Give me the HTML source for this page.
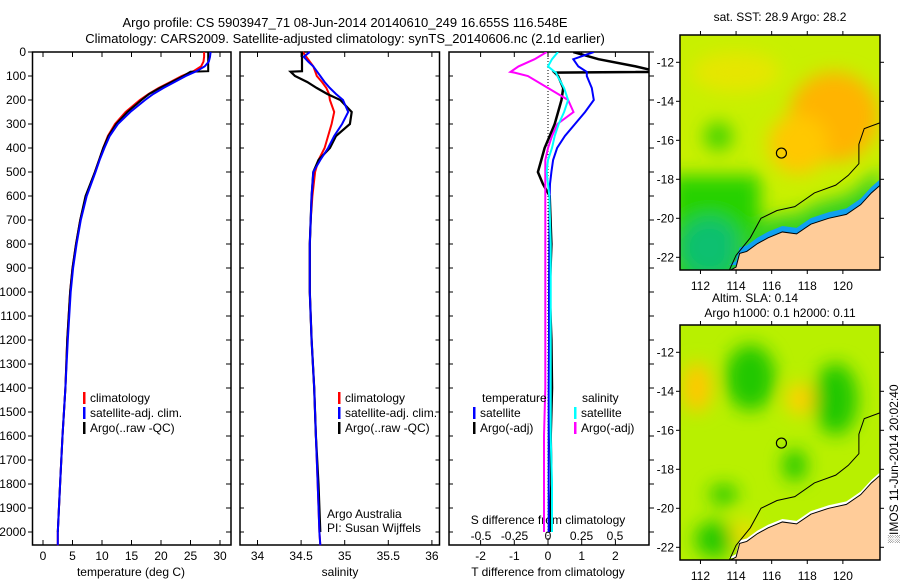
<!DOCTYPE html>
<html><head><meta charset="utf-8"><style>
body{margin:0;background:#fff;}
svg{display:block;font-family:"Liberation Sans",sans-serif;font-size:12px;}
</style></head><body>
<svg id="fig" width="900" height="580" viewBox="0 0 900 580">
<defs>
<filter id="blur" x="-20%" y="-20%" width="140%" height="140%"><feGaussianBlur stdDeviation="9"/></filter>
<clipPath id="clipA"><rect x="680" y="35" width="200" height="235"/></clipPath>
<clipPath id="clipB"><rect x="680" y="325" width="200" height="235"/></clipPath>
<clipPath id="clipP3"><rect x="449" y="52" width="200" height="493"/></clipPath>
</defs>
<text x="345" y="27" text-anchor="middle" font-size="13">Argo profile: CS 5903947_71 08-Jun-2014 20140610_249 16.655S 116.548E</text>
<text x="345" y="43" text-anchor="middle" font-size="13">Climatology: CARS2009. Satellite-adjusted climatology: synTS_20140606.nc (2.1d earlier)</text>
<g id="g"></g>
</svg>
<script>
// ---- data ----
const depths=[0,20,40,60,80,100,125,150,175,200,250,300,350,400,450,500,600,700,800,900,1000,1200,1400,1600,1800,2000,2055];
const tempClim=[27.3,27.3,27.2,26.8,25.5,23.5,21.6,19.6,17.9,16.4,14.0,12.2,11.0,10.2,9.5,8.8,7.3,6.3,5.6,5.0,4.6,4.1,3.8,3.3,2.9,2.5,2.5];
const tempSat=[28.4,28.3,28.1,27.4,26.0,24.2,22.3,20.4,18.7,17.3,14.8,12.7,11.3,10.4,9.6,8.9,7.4,6.4,5.7,5.1,4.7,4.2,3.8,3.3,2.9,2.5,2.5];
const argoDepths=[0,20,40,60,80,82,100,125,150,175,200,250,300,350,400,450,500,600,700,800,900,1000,1200,1400,1600,1800,2000];
const tempArgo=[28.0,28.0,28.0,28.0,28.0,25.0,23.8,21.8,19.8,18.0,16.7,14.3,12.4,11.1,10.2,9.5,8.8,7.2,6.3,5.6,5.0,4.6,4.1,3.8,3.3,2.9,2.5];
const salClim=[34.52,34.56,34.60,34.64,34.66,34.68,34.74,34.79,34.82,34.83,34.88,34.85,34.81,34.77,34.70,34.66,34.63,34.61,34.60,34.60,34.60,34.62,34.65,34.67,34.69,34.71,34.72];
const salSat=[34.60,34.53,34.58,34.64,34.68,34.72,34.77,34.83,34.90,34.98,35.04,34.97,34.88,34.81,34.72,34.64,34.62,34.61,34.60,34.60,34.60,34.62,34.65,34.67,34.69,34.71,34.72];
const salArgo=[34.51,34.51,34.51,34.51,34.51,34.38,34.43,34.57,34.68,34.80,34.95,35.08,35.06,34.90,34.83,34.70,34.64,34.62,34.61,34.60,34.60,34.60,34.62,34.65,34.67,34.70,34.72];
const dDepths=[0,30,60,83,86,100,150,200,250,300,350,400,450,500,550,600,800,1000,1200,1400,1600,1800,2000];
const tDiffSat=[1.36,0.75,0.9,1.15,1.15,1.15,1.3,1.36,1.1,0.8,0.5,0.27,0.15,0.1,0.06,0.05,0.04,0.03,0.03,0.02,0.02,0.02,0.02];
const tDiffArgo=[0.75,1.5,2.6,3.3,0.2,0.3,0.45,0.4,0.3,0.2,0.05,-0.1,-0.2,-0.3,-0.15,0.05,0.1,0.05,0.1,0.12,0.08,0.1,0.05];
const sDiffSat=[0.075,0.03,0.0,0.05,0.06,0.07,0.12,0.15,0.12,0.08,0.05,0.03,0.0,-0.01,0.0,0.01,0.02,0.02,0.02,0.02,0.02,0.03,0.03];
const sDiffArgo=[-0.01,-0.1,-0.22,-0.28,-0.25,-0.15,0.0,0.15,0.19,0.07,0.03,0.0,-0.02,-0.02,-0.02,-0.02,-0.02,-0.02,-0.02,-0.02,-0.03,-0.03,-0.03];
const depthTicks=[0,100,200,300,400,500,600,700,800,900,1000,1100,1200,1300,1400,1500,1600,1700,1800,1900,2000];
const tempTicks=[0,5,10,15,20,25,30];
const salTicks=[34,34.5,35,35.5,36];
const tdTicks=[-2,-1,0,1,2];
const sdTicks=[-0.5,-0.25,0,0.25,0.5];
const lonTicks=[112,114,116,118,120];
const latTicks=[-12,-14,-16,-18,-20,-22];
const argoLon=116.548, argoLat=-16.655;
const coast=[[113.6,-22.7],[114.0,-22.5],[114.2,-21.8],[114.6,-21.7],[115.2,-21.3],[115.8,-21.0],[116.6,-20.7],[117.4,-20.8],[118.2,-20.3],[119.2,-20.0],[120.2,-19.8],[121.0,-19.3],[121.6,-18.7],[122.1,-18.3],[122.1,-22.7]];
const isobath=[[113.6,-22.7],[114.0,-21.9],[114.8,-21.0],[115.4,-20.0],[116.3,-19.6],[117.3,-19.4],[118.4,-18.7],[119.6,-18.3],[120.3,-17.8],[120.9,-17.2],[120.9,-16.2],[121.2,-15.4],[122.1,-15.1]];

// ---- scales ----
const yD=d=>52+d*0.24;
const xT=t=>43+t*5.9;
const xS=s=>257.5+(s-34)*87.2;
const xTD=v=>548+v*33.7;
const xSD=v=>548+v*134;
const mx=l=>680+(l-110.85)*17.8;
const myA=l=>35+(-10.6-l)*19.5;
const myB=l=>325+(-10.6-l)*19.5;

const NS='http://www.w3.org/2000/svg';
const g=document.getElementById('g');
function el(tag,attrs,parent){const e=document.createElementNS(NS,tag);for(const k in attrs)e.setAttribute(k,attrs[k]);(parent||g).appendChild(e);return e;}
function txt(x,y,s,anchor,parent){const e=el('text',{x:x,y:y,'text-anchor':anchor||'start'},parent);e.textContent=s;return e;}
function profile(xs,ys,xf,color,w,name,clip){
  const pts=xs.map((v,i)=>xf(v).toFixed(1)+','+yD(ys[i]).toFixed(1)).join(' ');
  const p=el('polyline',{points:pts,fill:'none',stroke:color,'stroke-width':w});
  if(clip)p.setAttribute('clip-path','url(#clipP3)');
  
  
}
function panel(x0,x1,name){
  const r=el('rect',{x:x0,y:52,width:x1-x0,height:493,fill:'none',stroke:'#000','stroke-width':1.5});
  
  
}
panel(32.5,231,'temperature-panel');
panel(240,439.5,'salinity-panel');
panel(449,649,'difference-panel');
depthTicks.forEach(d=>{
  el('line',{x1:28,x2:32.5,y1:yD(d),y2:yD(d),stroke:'#000'});
  el('line',{x1:649,x2:654,y1:yD(d),y2:yD(d),stroke:'#000'});
  el('line',{x1:240,x2:244,y1:yD(d),y2:yD(d),stroke:'#000'});
  el('line',{x1:435.5,x2:439.5,y1:yD(d),y2:yD(d),stroke:'#000'});
  el('line',{x1:226,x2:231,y1:yD(d),y2:yD(d),stroke:'#000'});
  el('line',{x1:449,x2:453,y1:yD(d),y2:yD(d),stroke:'#000'});
  const t=txt(26,yD(d)+4,String(d),'end');
  
  
});
function xticks(ticks,f,labY){
  ticks.forEach(v=>{
    const x=f(v);
    el('line',{x1:x,x2:x,y1:52,y2:57,stroke:'#000'});
    el('line',{x1:x,x2:x,y1:540,y2:545,stroke:'#000'});
    const t=txt(x,labY,String(v),'middle');
    
    
  });
}
xticks(tempTicks,xT,560);
xticks(salTicks,xS,560);
xticks(tdTicks,xTD,560);
sdTicks.forEach(v=>{
  const t=txt(xSD(v),540,String(v),'middle');
  
  
});
[['temperature (deg C)',131],['salinity',340],['T difference from climatology',548]].forEach(a=>{
  const t=txt(a[1],576,a[0],'middle');
  
  
});
{const t=txt(548,524,'S difference from climatology','middle');

}
{const z=el('line',{x1:548,x2:548,y1:52,y2:545,stroke:'#000','stroke-dasharray':'1,2'});

}
profile(tempClim,depths,xT,'#f00',2,'temp-climatology-line');
profile(tempArgo,argoDepths,xT,'#000',2,'temp-argo-line');
profile(tempSat,depths,xT,'#00f',2,'temp-satellite-line');
profile(salClim,depths,xS,'#f00',2,'sal-climatology-line');
profile(salArgo,argoDepths,xS,'#000',2.2,'sal-argo-line');
profile(salSat,depths,xS,'#00f',2,'sal-satellite-line');
profile(tDiffArgo,dDepths,xTD,'#000',2.5,'tdiff-argo-line',true);
profile(tDiffSat,dDepths,xTD,'#00f',2,'tdiff-satellite-line',true);
profile(sDiffArgo,dDepths,xSD,'#f0f',2,'sdiff-argo-line',true);
profile(sDiffSat,dDepths,xSD,'#0ff',2,'sdiff-satellite-line',true);
function legend(x,y,items,name){
  items.forEach((it,i)=>{
    const yy=y+i*15;
    el('rect',{x:x,y:yy-10,width:2.5,height:12,fill:it[1]});
    const t=txt(x+7,yy,it[0]);
    
    
  });
}
const L1=[['climatology','#f00'],['satellite-adj. clim.','#00f'],['Argo(..raw -QC)','#000']];
legend(83,402,L1,'temp-legend');
legend(338,402,L1,'sal-legend');
txt(482,402,'temperature');
txt(582,402,'salinity');
legend(473,417,[['satellite','#00f'],['Argo(-adj)','#000']],'tdiff-legend');
legend(574,417,[['satellite','#0ff'],['Argo(-adj)','#f0f']],'sdiff-legend');
txt(327,518,'Argo Australia');
txt(327,532,'PI: Susan Wijffels');
function map(my,clip,top,kind){
  const mg=el('g',{'clip-path':'url(#'+clip+')'});
  
  
  el('rect',{x:680,y:top,width:200,height:235,fill:kind==='sst'?'#c8f000':'#b8f000'},mg);
  const bl=el('g',{filter:'url(#blur)'},mg);
  if(kind==='sst'){
    el('ellipse',{cx:mx(119.5),cy:my(-14.8),rx:45,ry:45,fill:'#ffb400'},bl);
    el('ellipse',{cx:mx(117.5),cy:my(-16.2),rx:30,ry:30,fill:'#ffc800'},bl);
    el('ellipse',{cx:mx(114),cy:my(-12.5),rx:45,ry:20,fill:'#e6e600'},bl);
    el('rect',{x:670,y:my(-17.8),width:90,height:140,fill:'#28d200'},bl);
    el('ellipse',{cx:mx(113),cy:my(-15.8),rx:14,ry:14,fill:'#3cd200'},bl);
    el('ellipse',{cx:mx(112.5),cy:my(-21.5),rx:30,ry:30,fill:'#10c070'},bl);
    el('polygon',{points:coast.map(p=>mx(p[0])+','+(my(p[1])-18)).join(' '),fill:'#30d020'},bl);
    el('polygon',{points:coast.map(p=>mx(p[0])+','+(my(p[1])-6)).join(' '),fill:'#10a0f0'},mg);
  }else{
    [[114.8,-13.3,25,33],[119.6,-14.4,22,36],[117.3,-17.8,12,16],[112.8,-21.6,20,18],[113.3,-19.3,14,10]].forEach(b=>{
      el('ellipse',{cx:mx(b[0]),cy:my(b[1]),rx:b[2],ry:b[3],fill:'#20c800'},bl);
    });
    [[111.8,-13.8,15,25,'#ffc800'],[117.6,-14.4,14,16,'#ffd000'],[114.4,-21.3,12,14,'#f0dc00']].forEach(b=>{
      el('ellipse',{cx:mx(b[0]),cy:my(b[1]),rx:b[2],ry:b[3],fill:b[4]},bl);
    });
    el('polygon',{points:coast.map(p=>mx(p[0])+','+(my(p[1])-3)).join(' '),fill:'#fff'},mg);
  }
  el('polygon',{points:coast.map(p=>mx(p[0])+','+my(p[1])).join(' '),fill:'#ffcc99',stroke:'#000','stroke-width':1},mg);
  el('polyline',{points:isobath.map(p=>mx(p[0])+','+my(p[1])).join(' '),fill:'none',stroke:'#000','stroke-width':1},mg);
  const c=el('circle',{cx:mx(argoLon),cy:my(argoLat),r:5,fill:'none',stroke:'#000','stroke-width':1.2});
  
  
  el('rect',{x:680,y:top,width:200,height:235,fill:'none',stroke:'#000','stroke-width':1.5});
  lonTicks.forEach(l=>{
    el('line',{x1:mx(l),x2:mx(l),y1:top-4,y2:top,stroke:'#000'});
    el('line',{x1:mx(l),x2:mx(l),y1:top+235,y2:top+239,stroke:'#000'});
    const t=txt(mx(l),top+255,String(l),'middle');
    
    
  });
  latTicks.forEach(l=>{
    el('line',{x1:676,x2:680,y1:my(l),y2:my(l),stroke:'#000'});
    el('line',{x1:880,x2:884,y1:my(l),y2:my(l),stroke:'#000'});
    const t=txt(674,my(l)+4,String(l),'end');
    
    
  });
}
map(myA,'clipA',35,'sst');
map(myB,'clipB',325,'sla');
txt(780,21,'sat. SST: 28.9 Argo: 28.2','middle');
txt(755,302,'Altim. SLA: 0.14','middle');
txt(780,317,'Argo h1000: 0.1 h2000: 0.11','middle');
{const t=txt(0,0,'\u2591IMOS 11-Jun-2014 20:02:40','middle');
t.setAttribute('transform','translate(898,464) rotate(-90)');

}
</script>
</body></html>
